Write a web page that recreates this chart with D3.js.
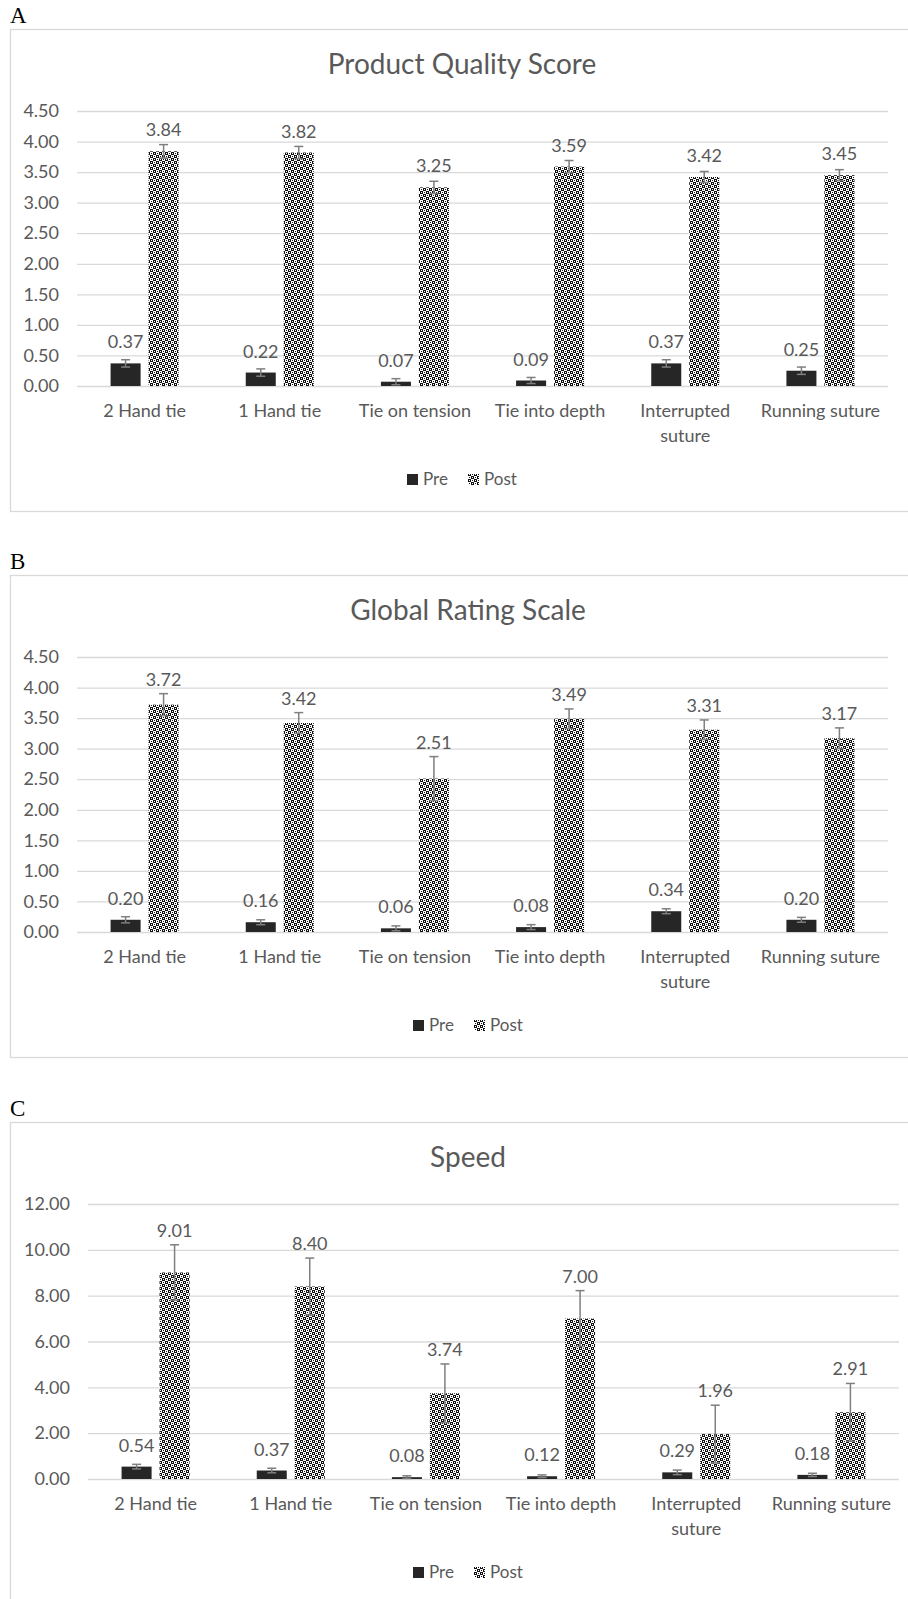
<!DOCTYPE html>
<html>
<head>
<meta charset="utf-8">
<script src="https://cdn.jsdelivr.net/npm/d3@7"></script>
<style>
  body { margin: 0; background: #fff; }
  text { font-family: Lato, "Noto Sans", sans-serif; }
</style>
</head>
<body>
<script>
// categories and series
const categories = ["2 Hand tie", "1 Hand tie", "Tie on tension", "Tie into depth", "Interrupted suture", "Running suture"];
const series = ["Pre", "Post"];

// A - product quality score
const qualityPre = [0.37, 0.22, 0.07, 0.09, 0.37, 0.25];
const qualityPost = [3.84, 3.82, 3.25, 3.59, 3.42, 3.45];
const qualityPreErr = [0.06, 0.06, 0.05, 0.05, 0.06, 0.06];
const qualityPostErr = [0.11, 0.10, 0.10, 0.10, 0.09, 0.09];

// B - global rating scale
const globalPre = [0.20, 0.16, 0.06, 0.08, 0.34, 0.20];
const globalPost = [3.72, 3.42, 2.51, 3.49, 3.31, 3.17];
const globalPreErr = [0.05, 0.04, 0.04, 0.04, 0.04, 0.04];
const globalPostErr = [0.18, 0.17, 0.36, 0.16, 0.16, 0.17];

// C - speed
const speedPre = [0.54, 0.37, 0.08, 0.12, 0.29, 0.18];
const speedPost = [9.01, 8.40, 3.74, 7.00, 1.96, 2.91];
const speedPreErr = [0.10, 0.10, 0.06, 0.06, 0.10, 0.07];
const speedPostErr = [1.21, 1.24, 1.28, 1.22, 1.26, 1.26];

// tick values
const ticksAB = [0, 0.5, 1, 1.5, 2, 2.5, 3, 3.5, 4, 4.5];
const ticksC = [0, 2, 4, 6, 8, 10, 12];

const panels = [
    { letter: "A", title: "Product Quality Score", pre: qualityPre, post: qualityPost,
      preErr: qualityPreErr, postErr: qualityPostErr, ticks: ticksAB, top: 29, left: 77, center: 462 },
    { letter: "B", title: "Global Rating Scale", pre: globalPre, post: globalPost,
      preErr: globalPreErr, postErr: globalPostErr, ticks: ticksAB, top: 575, left: 77, center: 468 },
    { letter: "C", title: "Speed", pre: speedPre, post: speedPost,
      preErr: speedPreErr, postErr: speedPostErr, ticks: ticksC, top: 1122, left: 88, center: 468 }
];

const width = 908, height = 1599;
const plotW = 811, plotTop = 82, plotBottom = 357;
const grey = "#595959", gridColor = "#d9d9d9";

const svg = d3.select("body").append("svg")
    .attr("width", width)
    .attr("height", height);

svg.append("rect").attr("width", width).attr("height", height).attr("fill", "#fff");

// checker pattern for the Post bars
const pat = svg.append("defs").append("pattern")
    .attr("id", "checker")
    .attr("patternUnits", "userSpaceOnUse")
    .attr("width", 6)
    .attr("height", 6);
pat.append("rect").attr("width", 6).attr("height", 6).attr("fill", "#fff");
pat.append("rect").attr("width", 3).attr("height", 3).attr("fill", "#111");
pat.append("rect").attr("x", 3).attr("y", 3).attr("width", 3).attr("height", 3).attr("fill", "#111");
pat.append("rect").attr("x", 1).attr("y", 1).attr("width", 1).attr("height", 1).attr("fill", "#fff");
pat.append("rect").attr("x", 4).attr("y", 4).attr("width", 1).attr("height", 1).attr("fill", "#fff");
pat.append("rect").attr("x", 4).attr("y", 1).attr("width", 1).attr("height", 1).attr("fill", "#111");
pat.append("rect").attr("x", 1).attr("y", 4).attr("width", 1).attr("height", 1).attr("fill", "#111");

const fillFor = s => s === "Pre" ? "#262626" : "url(#checker)";

// splits long category names over two lines
function wrap(texts, maxWidth) {
    texts.each(function () {
        const text = d3.select(this);
        const words = text.text().split(/\s+/);
        if (this.getComputedTextLength() <= maxWidth) return;
        const yPos = text.attr("y"), dy = text.attr("dy");
        text.text(null);
        const half = Math.ceil(words.length / 2);
        text.append("tspan").attr("x", 0).attr("y", yPos).attr("dy", dy).text(words.slice(0, half).join(" "));
        text.append("tspan").attr("x", 0).attr("y", yPos).attr("dy", (parseFloat(dy) + 1.4) + "em").text(words.slice(half).join(" "));
    });
}

panels.forEach(p => {
    const g = svg.append("g").attr("transform", `translate(0,${p.top})`);

    g.append("text")
        .attr("x", 10)
        .attr("y", -6)
        .style("font-family", "'Liberation Serif', serif")
        .attr("font-size", 23)
        .attr("fill", "#000")
        .text(p.letter);

    g.append("rect")
        .attr("x", 10.5)
        .attr("y", 0.5)
        .attr("width", 920)
        .attr("height", 482)
        .attr("fill", "none")
        .attr("stroke", gridColor)
        .attr("stroke-width", 1.3);

    g.append("text")
        .attr("x", p.center)
        .attr("y", 45)
        .attr("text-anchor", "middle")
        .attr("font-size", 28)
        .attr("fill", grey)
        .text(p.title);

    const x = d3.scaleBand()
        .domain(categories)
        .range([p.left, p.left + plotW]);

    const xs = d3.scaleBand()
        .domain(series)
        .range([0, x.bandwidth()])
        .paddingInner(0.21)
        .paddingOuter(0.884);

    const y = d3.scaleLinear()
        .domain([0, d3.max(p.ticks)])
        .range([plotBottom, plotTop]);

    // gridlines + y labels
    const yAxis = g.append("g")
        .attr("transform", `translate(${p.left},0)`)
        .call(d3.axisLeft(y).tickValues(p.ticks).tickFormat(d3.format(".2f")).tickSize(-plotW).tickPadding(18));
    yAxis.select(".domain").remove();
    yAxis.selectAll("line").attr("stroke", gridColor).attr("stroke-width", 1.3);
    yAxis.selectAll("text").attr("fill", grey).attr("font-size", 18).attr("font-family", null);

    // x labels
    const xAxis = g.append("g")
        .attr("transform", `translate(0,${plotBottom})`)
        .call(d3.axisBottom(x).tickSize(0).tickPadding(18));
    xAxis.select(".domain").remove();
    xAxis.selectAll("text").attr("fill", grey).attr("font-size", 18).attr("font-family", null)
        .call(wrap, 124);

    const rows = [];
    categories.forEach((c, i) => {
        rows.push({ cat: c, s: "Pre", v: p.pre[i], e: p.preErr[i] });
        rows.push({ cat: c, s: "Post", v: p.post[i], e: p.postErr[i] });
    });

    g.selectAll(".bar")
        .data(rows)
        .join("rect")
        .attr("class", "bar")
        .attr("x", d => x(d.cat) + xs(d.s))
        .attr("width", xs.bandwidth())
        .attr("y", d => y(d.v))
        .attr("height", d => y(0) - y(d.v))
        .attr("fill", d => fillFor(d.s));

    // error bars (both directions)
    const err = g.selectAll(".err")
        .data(rows)
        .join("g")
        .attr("class", "err")
        .attr("transform", d => `translate(${x(d.cat) + xs(d.s) + xs.bandwidth() / 2},0)`)
        .attr("stroke", "#7f7f7f")
        .attr("stroke-width", 1.5);
    err.append("line")
        .attr("y1", d => y(d.v + d.e))
        .attr("y2", d => y(Math.max(0, d.v - d.e)));
    err.append("line")
        .attr("x1", -4.5).attr("x2", 4.5)
        .attr("y1", d => y(d.v + d.e))
        .attr("y2", d => y(d.v + d.e));
    err.append("line")
        .attr("x1", -4.5).attr("x2", 4.5)
        .attr("y1", d => y(Math.max(0, d.v - d.e)))
        .attr("y2", d => y(Math.max(0, d.v - d.e)));

    // value labels: just above the bar, or above the error bar when that is taller
    g.selectAll(".val")
        .data(rows)
        .join("text")
        .attr("class", "val")
        .attr("x", d => x(d.cat) + xs(d.s) + xs.bandwidth() / 2)
        .attr("y", d => Math.min(y(d.v) - 15, y(d.v + d.e) - 8))
        .attr("text-anchor", "middle")
        .attr("font-size", 18)
        .attr("fill", grey)
        .text(d => d.v.toFixed(2));

    // legend
    const leg = g.append("g").attr("transform", `translate(${p.center},456)`);
    series.forEach((s, i) => {
        const ox = i === 0 ? -55 : 6;
        leg.append("rect")
            .attr("x", ox)
            .attr("y", -11)
            .attr("width", 11)
            .attr("height", 11)
            .attr("fill", fillFor(s));
        leg.append("text")
            .attr("x", ox + 16)
            .attr("y", 0)
            .attr("font-size", 17)
            .attr("fill", grey)
            .text(s);
    });
});
</script>
</body>
</html>
